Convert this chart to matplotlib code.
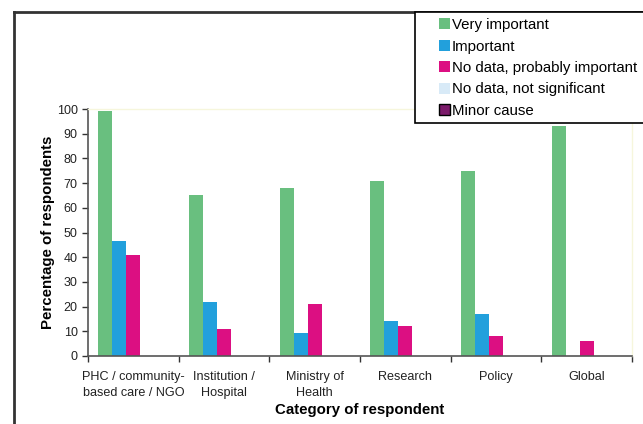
import numpy as np
import matplotlib.pyplot as plt
import matplotlib as mpl
from matplotlib.lines import Line2D
from matplotlib.patches import Rectangle, Patch

mpl.rcParams.update({
    "font.family": ["Liberation Sans", "DejaVu Sans"],
})

categories = ['PHC / community-\nbased care / NGO', 'Institution /\nHospital',
              'Ministry of\nHealth', 'Research', 'Policy', 'Global']
series_names = ['Very important', 'Important', 'No data, probably important',
                'No data, not significant', 'Minor cause']
very_important = [99, 65, 68, 71, 75, 93]
important = [46.5, 22, 9.5, 14, 17, 0]
probably_important = [41, 11, 21, 12, 8, 6]
not_significant = [0, 0, 0, 0, 0, 0]
minor_cause = [0, 0, 0, 0, 0, 0]
yticks = list(range(0, 101, 10))

colors = ['#69bf7f', '#22a0dc', '#dc0f82', '#d8eaf7', '#7b1a6a']
data = [very_important, important, probably_important, not_significant, minor_cause]

fig = plt.figure(figsize=(6.43, 4.24), dpi=100, facecolor='white')
ax = fig.add_axes([88 / 643, 68 / 424, 544 / 643, 247 / 424])

x = np.arange(len(categories))
w = 1 / 6.5
for i, (vals, c) in enumerate(zip(data, colors)):
    ax.bar(x + (i - 2) * w, vals, width=w, color=c, linewidth=0)

ax.set_xlim(-0.5, len(categories) - 0.5)
ax.set_ylim(0, 100)
ax.set_yticks(yticks)
ax.set_xticks(np.arange(len(categories) + 1) - 0.5)
ax.set_xticklabels([])
ax.set_xticks(x, minor=True)
labels = ax.set_xticklabels(categories, minor=True, fontsize=9.1, color='#222222')
for t in labels:
    t.set_linespacing(1.4)
ax.tick_params(axis='x', which='minor', length=0, pad=11)
ax.tick_params(axis='x', which='major', length=4, width=1, color='#333333', direction='out')
ax.tick_params(axis='y', labelsize=9, length=4, width=1, color='#333333', labelcolor='#222222')

for s in ['top', 'right']:
    ax.spines[s].set_color('#f6f6dc')
    ax.spines[s].set_linewidth(1)
for s in ['left', 'bottom']:
    ax.spines[s].set_color('#555555')
    ax.spines[s].set_linewidth(1.2)

ax.set_ylabel('Percentage of respondents', fontsize=10.8, fontweight='bold', labelpad=1)
ax.set_xlabel('Category of respondent', fontsize=10.8, fontweight='bold', labelpad=3)

# outer frame
fig.add_artist(Line2D([14 / 643, 14 / 643], [0, 1 - 12 / 424], color='#333333', linewidth=2,
                      transform=fig.transFigure))
fig.add_artist(Line2D([14 / 643, 1], [1 - 12 / 424, 1 - 12 / 424], color='#333333', linewidth=2,
                      transform=fig.transFigure))

# legend box
fig.add_artist(Rectangle((415 / 643, 1 - 123 / 424), 240 / 643, 111 / 424, facecolor='white',
                         edgecolor='black', linewidth=1.2, transform=fig.transFigure, zorder=3))
handles = [Patch(facecolor=c, edgecolor='black' if i == 4 else c, linewidth=1 if i == 4 else 0)
           for i, c in enumerate(colors)]
leg = fig.legend(handles, series_names, loc='upper left', bbox_to_anchor=(439 / 643, 1 - 18 / 424),
                 fontsize=10.8, frameon=False, handlelength=0.75, handleheight=0.75,
                 handletextpad=0.12, labelspacing=0.5, borderpad=0, borderaxespad=0,
                 bbox_transform=fig.transFigure)
leg.set_zorder(4)

plt.savefig('out.png', dpi=100, facecolor='white')
plt.close()
